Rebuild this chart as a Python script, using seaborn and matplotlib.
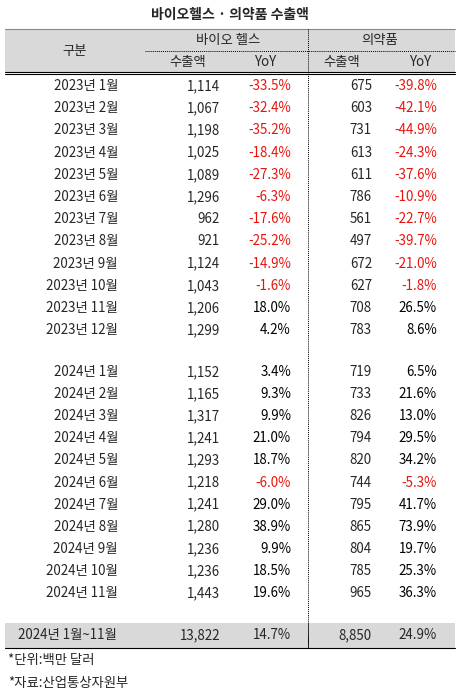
import matplotlib
matplotlib.use("Agg")
import matplotlib.pyplot as plt
import seaborn as sns

sns.set_theme(style="white")
plt.rcParams['font.family'] = ['Noto Sans CJK KR', 'DejaVu Sans']

labels_2023 = [f"2023년 {m}월" for m in range(1, 13)]
bio_2023 = ["1,114","1,067","1,198","1,025","1,089","1,296","962","921","1,124","1,043","1,206","1,299"]
bio_yoy_2023 = ["-33.5%","-32.4%","-35.2%","-18.4%","-27.3%","-6.3%","-17.6%","-25.2%","-14.9%","-1.6%","18.0%","4.2%"]
ph_2023 = ["675","603","731","613","611","786","561","497","672","627","708","783"]
ph_yoy_2023 = ["-39.8%","-42.1%","-44.9%","-24.3%","-37.6%","-10.9%","-22.7%","-39.7%","-21.0%","-1.8%","26.5%","8.6%"]

labels_2024 = [f"2024년 {m}월" for m in range(1, 12)]
bio_2024 = ["1,152","1,165","1,317","1,241","1,293","1,218","1,241","1,280","1,236","1,236","1,443"]
bio_yoy_2024 = ["3.4%","9.3%","9.9%","21.0%","18.7%","-6.0%","29.0%","38.9%","9.9%","18.5%","19.6%"]
ph_2024 = ["719","733","826","794","820","744","795","865","804","785","965"]
ph_yoy_2024 = ["6.5%","21.6%","13.0%","29.5%","34.2%","-5.3%","41.7%","73.9%","19.7%","25.3%","36.3%"]

total = ["2024년 1월~11월", "13,822", "14.7%", "8,850", "24.9%"]

fig = plt.figure(figsize=(4.6, 6.94), dpi=100)
ax = fig.add_axes([0, 0, 1, 1])
ax.set_xlim(0, 460); ax.set_ylim(694, 0); ax.axis("off")
fs = 9.6
gray = "#d9d9d9"
L, R, VX = 5, 455, 308

ax.text(230, 15, "바이오헬스 · 의약품 수출액", ha="center", va="center", fontsize=10, fontweight="bold")
ax.add_patch(plt.Rectangle((L, 29), R - L, 43, color=gray, lw=0))
ax.plot([L, R], [29, 29], color="#888", lw=0.8)
ax.plot([L, R], [71.5, 71.5], color="black", lw=0.8)
ax.plot([L, R], [74, 74], color="black", lw=0.8)
ax.plot([145, R], [51, 51], color="black", lw=0.7, ls=(0, (1, 1)))
ax.plot([VX, VX], [29, 648], color="black", lw=0.7, ls=(0, (1, 1)))
ax.text(75, 51, "구분", ha="center", va="center", fontsize=fs)
ax.text(228, 40, "바이오 헬스", ha="center", va="center", fontsize=fs)
ax.text(380, 40, "의약품", ha="center", va="center", fontsize=fs)
for x, t in [(188, "수출액"), (265, "YoY"), (342, "수출액"), (420, "YoY")]:
    ax.text(x, 62, t, ha="center", va="center", fontsize=fs)

def row(y, vals):
    lab, b, by, p, py = vals
    ax.text(118, y, lab, ha="right", va="center", fontsize=fs)
    ax.text(220, y, b, ha="right", va="center", fontsize=fs)
    ax.text(291, y, by, ha="right", va="center", fontsize=fs,
            color="#e8140c" if by.startswith("-") else "black")
    ax.text(372, y, p, ha="right", va="center", fontsize=fs)
    ax.text(437, y, py, ha="right", va="center", fontsize=fs,
            color="#e8140c" if py.startswith("-") else "black")

for i in range(12):
    row(86 + 22.2 * i, (labels_2023[i], bio_2023[i], bio_yoy_2023[i], ph_2023[i], ph_yoy_2023[i]))
for i in range(11):
    row(372 + 22.1 * i, (labels_2024[i], bio_2024[i], bio_yoy_2024[i], ph_2024[i], ph_yoy_2024[i]))

ax.add_patch(plt.Rectangle((L, 623), R - L, 25, color=gray, lw=0, zorder=0))
ax.plot([L, R], [648, 648], color="black", lw=0.8)
ax.plot([VX, VX], [623, 648], color="black", lw=0.7, ls=(0, (1, 1)))
ax.text(18, 635, total[0], ha="left", va="center", fontsize=fs)
ax.text(220, 635, total[1], ha="right", va="center", fontsize=fs)
ax.text(291, 635, total[2], ha="right", va="center", fontsize=fs)
ax.text(372, 635, total[3], ha="right", va="center", fontsize=fs)
ax.text(437, 635, total[4], ha="right", va="center", fontsize=fs)
ax.text(8, 660, "*단위:백만 달러", ha="left", va="center", fontsize=fs)
ax.text(8, 683, "*자료:산업통상자원부", ha="left", va="center", fontsize=fs)

fig.savefig("out.png", dpi=100)
